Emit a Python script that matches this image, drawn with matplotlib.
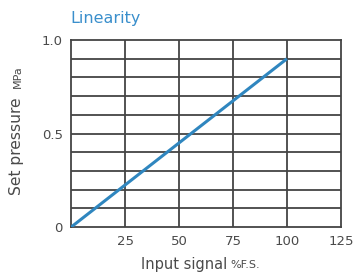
import matplotlib
matplotlib.use("Agg")
import matplotlib.pyplot as plt
import numpy as np

plt.rcParams['font.family'] = ['DejaVu Sans']

# data
signal = [0, 100]          # %F.S.
pressure = [0, 0.9]        # MPa
x_ticks = [25, 50, 75, 100, 125]
y_ticks = [0, 0.5, 1.0]
y_tick_labels = ["0", "0.5", "1.0"]

fig = plt.figure(figsize=(3.57, 2.78), dpi=100)
ax = fig.add_axes([0.199, 0.183, 0.756, 0.673])

# grid: vertical every 25, horizontal every 0.1
for gx in [25, 50, 75, 100]:
    ax.axvline(gx, color='#444444', lw=1.3, zorder=1)
for gy in np.arange(1, 10) / 10:
    ax.axhline(gy, color='#444444', lw=1.3, zorder=1)

ax.plot(signal, pressure, color='#2f86bf', lw=2.2, solid_capstyle='butt', zorder=3)

ax.set_xlim(0, 125)
ax.set_ylim(0, 1.0)
ax.set_xticks(x_ticks)
ax.set_yticks(y_ticks)
ax.set_yticklabels(y_tick_labels)
ax.tick_params(length=0, labelsize=9.5, colors='#4a4a4a', pad=6)
for s in ax.spines.values():
    s.set_color('#444444')
    s.set_linewidth(1.3)

txt = '#4a4a4a'
fig.text(141 / 357, 1 - 265 / 278, "Input signal", fontsize=10.5, color=txt, va='center', ha='left')
fig.text(230 / 357, 1 - 265 / 278, "%F.S.", fontsize=8, color=txt, va='center', ha='left')
fig.text(17 / 357, 1 - 195 / 278, "Set pressure", fontsize=11.2, color=txt, va='bottom', ha='center', rotation=90)
fig.text(18 / 357, 1 - 88 / 278, "MPa", fontsize=8, color=txt, va='bottom', ha='center', rotation=90)
fig.text(70 / 357, 1 - 18 / 278, "Linearity", fontsize=11.5, color='#3a8fcc', va='center', ha='left')

fig.savefig("out.png", dpi=100)
